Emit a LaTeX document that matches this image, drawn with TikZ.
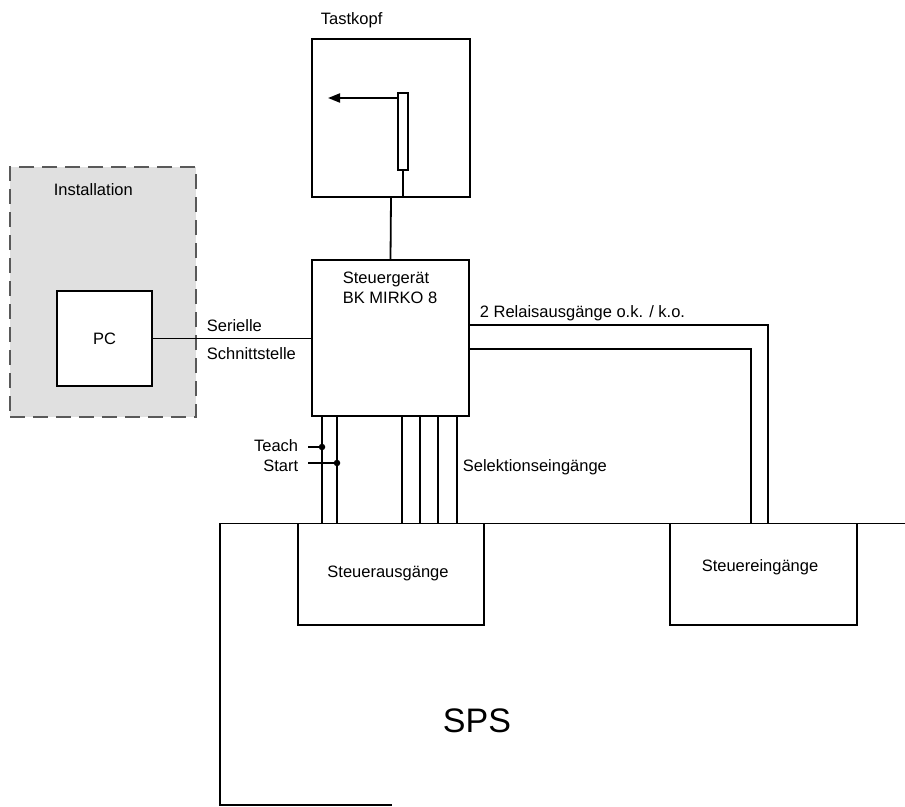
\documentclass[tikz,border=0pt]{standalone}
\usepackage{fontspec}
\setmainfont{Liberation Sans}
\usetikzlibrary{arrows.meta}
\begin{document}
\begin{tikzpicture}[x=1pt,y=-1pt,line width=1.8pt,
  font=\fontsize{16.5}{19.8}\selectfont,
  box/.style={draw,rectangle,inner sep=0pt,fill=white},
  lbl/.style={inner sep=0pt},
  dot/.style={circle,fill=black,inner sep=0pt,minimum size=6.5pt}]
\useasboundingbox (0,0) rectangle (905,806);
% Installation
\node[rectangle,inner sep=0pt,minimum width=186pt,minimum height=250pt,
  fill=black!12,draw=black!65,line width=1.5pt,dash pattern=on 15pt off 8pt] (inst) at (103,292) {};
\node[lbl,anchor=base west] (instl) at (53,195) {Installation};
\node[box,minimum width=95pt,minimum height=95pt] (pc) at (104.5,338.5) {PC};
% Tastkopf
\node[box,minimum width=158pt,minimum height=158pt] (tast) at (391,118) {};
\node[lbl,anchor=base west] (tastl) at (320,24) {Tastkopf};
\node[box,minimum width=10pt,minimum height=77pt] (bar) at (403,131.5) {};
\coordinate (arrtip) at (328,98);
\draw[-{Triangle[length=12pt,width=9pt]}] (bar.west |- arrtip) -- (arrtip);
\draw (bar.south) -- (bar.south |- tast.south);
% Steuergeraet
\node[box,minimum width=157pt,minimum height=156pt] (sg) at (390.5,338) {};
\node[lbl,anchor=base west] (sgl1) at (342,283) {Steuergerät};
\node[lbl,anchor=base west] (sgl2) at (342,303) {BK MIRKO 8};
\draw (tast.south) -- (sg.north);
% serial
\draw (pc.east) -- (pc.east -| sg.west);
\node[lbl,anchor=base west] (ser1) at (206,331) {Serielle};
\node[lbl,anchor=base west] (ser2) at (206,359) {Schnittstelle};
% SPS
\coordinate (spsr) at (905,523.5);
\coordinate (spstl) at (220,523.5);
\coordinate (spsbl) at (220,805);
\coordinate (spsbr) at (392,805);
\draw (spsr) -- (spstl) -- (spsbl) -- (spsbr);
\node[box,minimum width=186pt,minimum height=101.5pt] (sa) at (391,574.25) {};
\node[lbl,anchor=base] (sal) at (388,577) {Steuerausgänge};
\node[box,minimum width=187pt,minimum height=101.5pt] (se) at (763.5,574.25) {};
\node[lbl,anchor=base] (sel) at (760,571) {Steuereingänge};
\node[lbl,anchor=base] (spsl) at (477,732) {\fontsize{34}{38}\selectfont SPS};
% relais
\draw (sg.east |- 0,325) -| (se.north -| 768,0);
\draw (sg.east |- 0,349) -| (se.north -| 751,0);
\node[lbl,anchor=base west] (rel) at (479,317) {2 Relaisausgänge o.k. / k.o.};
% bottom wires
\foreach \x in {322,337,402,420,438,457}
  \draw (sg.south -| \x,0) -- (sa.north -| \x,0);
\node[dot] (teachd) at (322,447) {};
\node[dot] (startd) at (337,463) {};
\coordinate (teachs) at (308,447);
\coordinate (starts) at (308,463);
\draw (teachs) -- (teachd.center);
\draw (starts) -- (startd.center);
\node[lbl,anchor=base east] (teach) at (299,451) {Teach};
\node[lbl,anchor=base east] (start) at (299,471) {Start};
\node[lbl,anchor=base west] (selk) at (462,471) {Selektionseingänge};
\end{tikzpicture}
\end{document}
